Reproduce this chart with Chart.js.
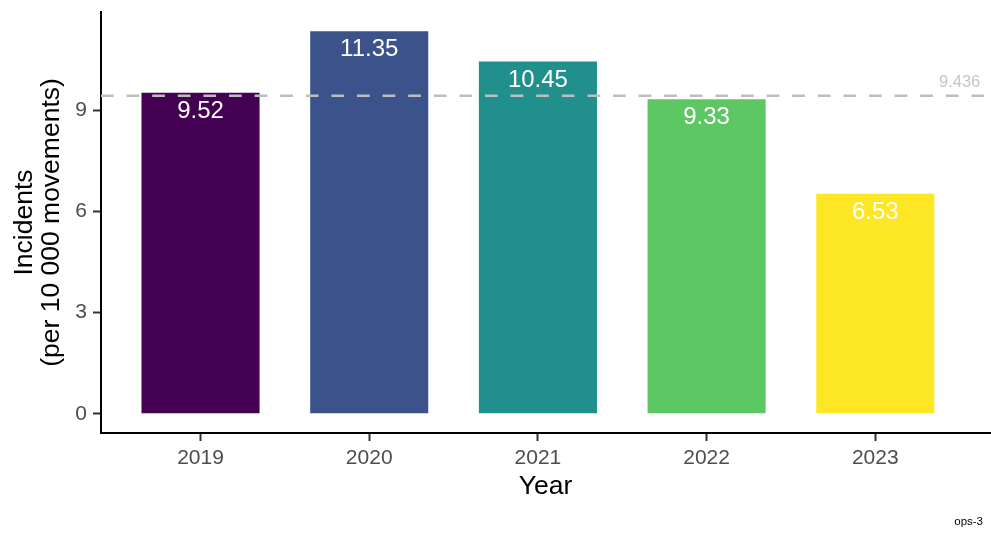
<!DOCTYPE html>
<html>
<head>
<meta charset="utf-8">
<script src="https://cdn.jsdelivr.net/npm/chart.js@4.4.1/dist/chart.umd.min.js"></script>
<style>
  html, body { margin: 0; padding: 0; background: #ffffff; overflow: hidden; }
  #wrap { width: 991px; height: 533px; position: relative; }
</style>
</head>
<body>
<div id="wrap"><canvas id="c" width="991" height="533"></canvas></div>
<script>
// ---- data ----
const years = ['2019', '2020', '2021', '2022', '2023'];
const incidents = [9.52, 11.35, 10.45, 9.33, 6.53];
const barColors = ['#440154', '#3B528B', '#21908C', '#5DC863', '#FDE725'];
const yTickValues = [0, 3, 6, 9];
const referenceValue = 9.436;
const referenceLabel = '9.436';
const xTitle = 'Year';
const yTitle = ['Incidents', '(per 10 000 movements)'];
const captionText = 'ops-3';

const FONT = '"Liberation Sans", Arial, Helvetica, sans-serif';
const xPositions = years.map((_, i) => i + 1);

const overlay = {
  id: 'overlay',
  afterDatasetsDraw(chart) {
    const { ctx, chartArea: a, scales: { x, y } } = chart;
    const yRef = y.getPixelForValue(referenceValue);
    ctx.save();
    // dashed reference line
    ctx.strokeStyle = '#BEBEBE';
    ctx.lineWidth = 2.5;
    ctx.setLineDash([12.7, 12.9]);
    ctx.beginPath();
    ctx.moveTo(a.left, yRef);
    ctx.lineTo(a.right, yRef);
    ctx.stroke();
    ctx.setLineDash([]);
    // reference label
    ctx.font = '16.5px ' + FONT;
    ctx.fillStyle = '#C6C6C6';
    ctx.textAlign = 'center';
    ctx.textBaseline = 'middle';
    ctx.fillText(referenceLabel, x.getPixelForValue(5.5), yRef - 13);
    // value labels
    ctx.font = '24px ' + FONT;
    ctx.fillStyle = '#ffffff';
    const meta = chart.getDatasetMeta(0);
    meta.data.forEach((bar, i) => {
      ctx.fillText(incidents[i].toFixed(2), bar.x, bar.y + 18.5);
    });
    // caption
    ctx.font = '11.5px ' + FONT;
    ctx.fillStyle = '#000000';
    ctx.textAlign = 'right';
    ctx.fillText(captionText, chart.width - 8, 522);
    ctx.restore();
  }
};

new Chart(document.getElementById('c'), {
  type: 'bar',
  data: {
    datasets: [{
      data: incidents.map((v, i) => ({ x: xPositions[i], y: v })),
      backgroundColor: barColors,
      borderWidth: 0,
      barPercentage: 0.7,
      categoryPercentage: 1.0
    }]
  },
  options: {
    responsive: false,
    animation: false,
    layout: { padding: { top: 12, right: 1, bottom: 30, left: 0 } },
    plugins: {
      legend: { display: false },
      tooltip: { enabled: false }
    },
    scales: {
      x: {
        type: 'linear',
        min: 0.41,
        max: 5.68,
        offset: false,
        afterBuildTicks(scale) {
          scale.ticks = xPositions.map(v => ({ value: v }));
        },
        afterFit(scale) {
          scale.height = 70;
          scale.paddingLeft = 0; scale.paddingRight = 0;
          scale.paddingTop = 0; scale.paddingBottom = 0;
        },
        ticks: {
          autoSkip: false,
          maxRotation: 0,
          padding: 5,
          color: '#4D4D4D',
          font: { family: FONT, size: 21 },
          callback: (v) => years[v - 1] !== undefined ? years[v - 1] : ''
        },
        grid: {
          display: true,
          offset: false,
          drawOnChartArea: false,
          drawTicks: true,
          tickLength: 8,
          tickColor: '#333333',
          tickWidth: 2
        },
        border: { display: true, color: '#000000', width: 2 },
        title: {
          display: true,
          text: xTitle,
          color: '#000000',
          font: { family: FONT, size: 26.5, lineHeight: 1.2 },
          padding: { top: 0, bottom: 0 }
        }
      },
      y: {
        type: 'linear',
        min: -0.5675,
        max: 11.9175,
        afterBuildTicks(scale) {
          scale.ticks = yTickValues.map(v => ({ value: v }));
        },
        afterFit(scale) {
          scale.width = 101;
          scale.paddingLeft = 0; scale.paddingRight = 0;
          scale.paddingTop = 0; scale.paddingBottom = 0;
        },
        ticks: {
          padding: 6,
          color: '#4D4D4D',
          font: { family: FONT, size: 21 }
        },
        grid: {
          display: true,
          drawOnChartArea: false,
          drawTicks: true,
          tickLength: 8,
          tickColor: '#333333',
          tickWidth: 2
        },
        border: { display: true, color: '#000000', width: 2 },
        title: {
          display: true,
          text: yTitle,
          color: '#000000',
          font: { family: FONT, size: 26.5, lineHeight: 1.02 },
          padding: { top: 11, bottom: 0 }
        }
      }
    }
  },
  plugins: [overlay]
});
</script>
</body>
</html>
